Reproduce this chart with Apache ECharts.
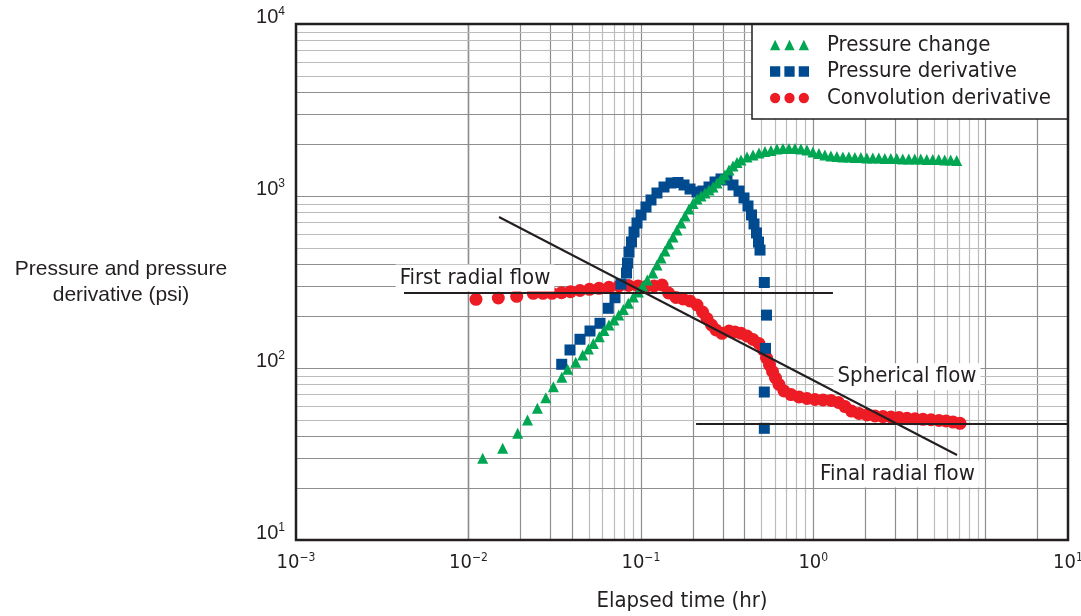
<!DOCTYPE html>
<html>
<head>
<meta charset="utf-8">
<script src="https://cdn.jsdelivr.net/npm/echarts@6/dist/echarts.min.js"></script>
<style>
html,body{margin:0;padding:0;background:#fff;}
#chart{width:1081px;height:616px;}
</style>
</head>
<body>
<div id="chart"></div>
<script>
// ---- data (elapsed time in hr, pressure in psi) ----
const pressureChange = [
  [0.0121,29.9],[0.0158,34.1],[0.0193,41.7],[0.0220,49.9],[0.0251,58.3],[0.0281,67.2],[0.0311,77.9],
  [0.0348,88.3],[0.0376,98.3],[0.0419,108],[0.0460,119],[0.0496,129],[0.0530,139],[0.0574,152],
  [0.0611,165],[0.0653,178],[0.0698,190],[0.0744,203],[0.0791,219],[0.0846,238],[0.0904,259],
  [0.0967,277],[0.1025,300],[0.1090,325],[0.1172,357],
  [0.1240,397],[0.1309,436],[0.1380,479],[0.1456,526],[0.1536,578],[0.1620,635],[0.1709,697],
  [0.1803,765],[0.1902,840],[0.2006,905],[0.2116,961],[0.2232,1000],[0.2355,1041],[0.2484,1084],
  [0.2620,1128],[0.2764,1190],[0.2916,1256],[0.3076,1325],[0.3245,1416],[0.3423,1494],[0.3611,1566],
  [0.3809,1620],
  [0.4126,1686],[0.4470,1732],[0.4842,1778],[0.5245,1814],[0.5682,1839],[0.6155,1876],[0.6668,1889],
  [0.7223,1889],[0.7825,1889],[0.8477,1876],[0.9183,1851],[0.9948,1802],[1.078,1767],[1.167,1732],
  [1.265,1709],[1.370,1697],[1.484,1686],[1.608,1686],[1.742,1674],[1.887,1674],[2.044,1663],
  [2.214,1663],[2.399,1663],[2.598,1652],[2.815,1652],[3.049,1652],[3.303,1641],[3.578,1641],
  [3.876,1641],[4.199,1641],[4.549,1630],[4.928,1630],[5.339,1630],[5.783,1620],[6.265,1620],
  [6.787,1609]
];
const pressureDerivative = [
  [0.03475,105.1],[0.03882,127.3],[0.04437,146.9],[0.05071,164.1],[0.05794,181.9],[0.06474,222.4],
  [0.07079,256.2],[0.07668,307.8],[0.08254,356.7],[0.08365,407.7],[0.08534,472.6],[0.08824,540.4],
  [0.09125,617.7],[0.09497,696.6],[0.1002,775.6],[0.1071,863.3],[0.1145,948.0],[0.1240,1041],
  [0.1362,1128],[0.1496,1190],[0.1642,1198],[0.1779,1159],[0.1928,1098],[0.2116,1055],[0.2293,1069],
  [0.2484,1128],[0.2692,1206],[0.2916,1256],[0.3159,1239],[0.3423,1159],[0.3708,1069],[0.3964,974],
  [0.4181,875],[0.4381,776],[0.4530,688],[0.4684,610],[0.4811,540],[0.4909,485],[0.5199,314],
  [0.5355,203],[0.5284,130],[0.5199,72.5],[0.5199,44.6]
];
const convolutionDerivative = [
  [0.01106,250.8],[0.01490,255.3],[0.01905,261.2],[0.02377,271.9],[0.02707,271.9],[0.03052,271.9],
  [0.03466,274.1],[0.03908,277.8],[0.04437,282.2],[0.05037,286.8],[0.05718,290.7],[0.06533,294.6],
  [0.07466,299.8],[0.08478,301.8],[0.09625,299.8],[0.1071,297.8],[0.1192,299.8],[0.1327,303.8],
  [0.1447,273.0],[0.1599,257.0],[0.1755,251.9],[0.1928,245.2],[0.2116,232.5],[0.2278,211.7],
  [0.2418,194.0],[0.2569,177.8],[0.2728,166.3],[0.2955,159.1],[0.3245,164.1],[0.3516,161.9],
  [0.3809,159.1],[0.4126,153.5],[0.4470,146.5],[0.4843,138.8],[0.5144,127.3],[0.5355,114.3],
  [0.5573,104.1],[0.5801,95.4],[0.6038,87.5],[0.6327,80.2],[0.6764,73.5],[0.7426,70.1],
  [0.8264,67.8],[0.9194,66.5],[1.023,65.6],[1.138,65.2],[1.267,64.7],[1.400,63.0],[1.527,59.7],
  [1.665,56.2],[1.841,54.4],[2.049,53.3],[2.279,52.6],[2.537,52.2],[2.823,51.9],[3.141,51.5],
  [3.496,51.0],[3.890,50.7],[4.329,50.3],[4.816,50.0],[5.359,49.5],[5.885,49.2],[6.461,48.5],
  [7.094,47.7]
];
// flow-regime straight lines
const firstRadialLine = [[0.00423,273],[1.30,273]];
const sphericalLine = [[0.01504,755],[6.815,31.2]];
const finalRadialLine = [[0.209,47.3],[30,47.3]];
// annotation labels
const annotations = [
  {name:'First radial flow', value:[0.01092,333.7]},
  {name:'Spherical flow', value:[3.496,89.0]},
  {name:'Final radial flow', value:[3.078,24.19]}
];
// axis ranges / ticks
const xRange = [0.001, 30];
const yRange = [10, 10000];
const xDecades = [0.001, 0.01, 0.1, 1, 10];
const yDecades = [10, 100, 1000];
const gridMultipliers = [1,2,3,4,5,6,7,8,9];
const legendNames = ['Pressure change','Pressure derivative','Convolution derivative'];

// ---- styling ----
const FONT_C = "'Liberation Sans Narrow','DejaVu Sans Condensed','Roboto Condensed','Arial Narrow',sans-serif";
const FONT_R = "'Liberation Sans',Arial,Helvetica,sans-serif";
const TXT = '#231f20';
const GREEN = '#00a651', BLUE = '#004a8f', RED = '#ed1c24';
const GRID_DARK = '#8e8e8e', GRID_LIGHT = '#bcbcbc';

function gridLines(decades, key, lo, hi) {
  const out = [];
  decades.forEach(d => gridMultipliers.forEach(k => {
    const v = +(k * d).toPrecision(6);
    if (v <= lo * 1.0001 || v >= hi * 0.9999) return;
    if (key === 'xAxis' && d === 10 && k > 2) return;
    out.push({[key]: v, lineStyle: {color: k <= 4 ? GRID_DARK : GRID_LIGHT, width: 1.2, type: 'solid'}});
  }));
  return out;
}
const gridMarks = gridLines(xDecades, 'xAxis', xRange[0], xRange[1])
  .concat(gridLines(yDecades, 'yAxis', yRange[0], yRange[1]));

function expStr(v) {
  const e = Math.round(Math.log10(v));
  return e < 0 ? '\u2212' + (-e) : String(e);
}

const TRI = 'path://M0,10L5,0L10,10Z M14,10L19,0L24,10Z M28,10L33,0L38,10Z';
const SQ = 'path://M0,0H10V10H0Z M14,0H24V10H14Z M28,0H38V10H28Z';
const CIR = 'path://M0,5A5,5 0 1,0 10,5A5,5 0 1,0 0,5Z M14,5A5,5 0 1,0 24,5A5,5 0 1,0 14,5Z M28,5A5,5 0 1,0 38,5A5,5 0 1,0 28,5Z';

const chart = echarts.init(document.getElementById('chart'), null, {renderer: 'canvas'});
const lineStyleBlack = {color: TXT, width: 2};

chart.setOption({
  animation: false,
  backgroundColor: '#fff',
  grid: {left: 296, right: 13, top: 24, bottom: 76, show: true, z: 10,
         borderColor: TXT, borderWidth: 2.5, backgroundColor: 'transparent',
         outerBoundsMode: 'none', containLabel: false},
  xAxis: {
    type: 'log', logBase: 10, min: xRange[0], max: xRange[1],
    name: 'Elapsed time (hr)', nameLocation: 'middle', nameGap: 50,
    nameTextStyle: {fontFamily: FONT_C, fontSize: 22, color: TXT},
    axisLine: {show: false}, axisTick: {show: false}, splitLine: {show: false},
    axisLabel: {
      show: true, showMinLabel: true, showMaxLabel: true, margin: 12,
      formatter: function (v) {
        if (v > 20) return '{b|10}{s|1}';
        if (Math.abs(v - 10) < 1e-6) return '';
        return '{b|10}{s|' + expStr(v) + '}';
      },
      rich: {
        b: {fontFamily: FONT_C, fontSize: 20, lineHeight: 22, color: TXT},
        s: {fontFamily: FONT_C, fontSize: 12, lineHeight: 11, verticalAlign: 'top', color: TXT}
      }
    }
  },
  yAxis: {
    type: 'log', logBase: 10, min: yRange[0], max: yRange[1],
    name: 'Pressure and pressure\nderivative (psi)', nameLocation: 'middle', nameGap: 175, nameRotate: 0,
    nameTextStyle: {fontFamily: FONT_R, fontSize: 21, lineHeight: 26, color: TXT, align: 'center',
                    verticalAlign: 'middle', padding: [6, 0, 0, 0]},
    axisLine: {show: false}, axisTick: {show: false}, splitLine: {show: false},
    axisLabel: {
      show: true, showMinLabel: true, showMaxLabel: true, margin: 11,
      verticalAlign: 'middle', padding: [0, 0, 14, 0],
      formatter: function (v) { return '{b|10}{s|' + expStr(v) + '}'; },
      rich: {
        b: {fontFamily: FONT_R, fontSize: 20, lineHeight: 22, color: TXT},
        s: {fontFamily: FONT_R, fontSize: 12, lineHeight: 11, verticalAlign: 'top', color: TXT}
      }
    }
  },
  legend: {
    data: [
      {name: legendNames[0], icon: TRI},
      {name: legendNames[1], icon: SQ},
      {name: legendNames[2], icon: CIR}
    ],
    orient: 'vertical', left: 770, top: 34, padding: 0,
    itemWidth: 39, itemHeight: 11, itemGap: 4.5, selectedMode: false, z: 6,
    textStyle: {fontFamily: FONT_C, fontSize: 22, color: TXT, padding: [0, 0, 0, 13]}
  },
  graphic: {elements: [{
    type: 'rect', z: 5, silent: true,
    shape: {x: 752, y: 24, width: 316, height: 95},
    style: {fill: '#fff', stroke: TXT, lineWidth: 1.5}
  }]},
  series: [
    {
      name: 'gridlines', type: 'line', data: [], silent: true,
      markLine: {silent: true, z: 1, symbol: ['none', 'none'], animation: false,
                 label: {show: false}, emphasis: {disabled: true}, data: gridMarks}
    },
    {name: legendNames[2], type: 'scatter', data: convolutionDerivative, symbol: 'circle', symbolSize: 13,
     itemStyle: {color: RED, opacity: 1}, z: 2, silent: true},
    {name: legendNames[1], type: 'scatter', data: pressureDerivative, symbol: 'rect', symbolSize: 11,
     itemStyle: {color: BLUE, opacity: 1}, z: 2, silent: true},
    {name: legendNames[0], type: 'scatter', data: pressureChange, symbol: 'triangle', symbolSize: 11,
     itemStyle: {color: GREEN, opacity: 1}, z: 2, silent: true},
    {name: 'First radial flow line', type: 'line', data: firstRadialLine, showSymbol: false, symbol: 'none',
     lineStyle: lineStyleBlack, z: 4, silent: true},
    {name: 'Spherical flow line', type: 'line', data: sphericalLine, showSymbol: false, symbol: 'none',
     lineStyle: lineStyleBlack, z: 4, silent: true},
    {name: 'Final radial flow line', type: 'line', data: finalRadialLine, showSymbol: false, symbol: 'none',
     lineStyle: lineStyleBlack, z: 4, silent: true},
    {name: 'annotations', type: 'scatter', data: annotations, symbol: 'circle', symbolSize: 2,
     itemStyle: {color: 'rgba(255,255,255,0)'}, z: 5, silent: true,
     label: {show: true, position: 'inside', formatter: '{b}', fontFamily: FONT_C, fontSize: 22, color: TXT,
             opacity: 1, textBorderWidth: 0, textBorderColor: 'transparent', textShadowBlur: 0,
             backgroundColor: '#ffffff', padding: [3, 4, 2, 4]}}
  ]
});
</script>
</body>
</html>
